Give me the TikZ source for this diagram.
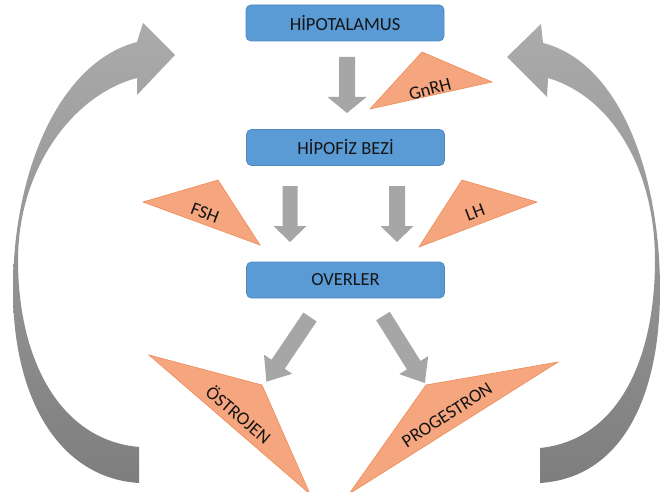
\documentclass[tikz,border=0pt]{standalone}
\usepackage{fontspec}
\setmainfont{Carlito}
\begin{document}
\begin{tikzpicture}[x=1pt,y=-1pt,
  box/.style={draw=boxline, fill=boxblue, rounded corners=5pt, line width=0.8pt,
    minimum width=198pt, minimum height=36pt, inner sep=0pt,
    font=\fontsize{18.5}{22}\selectfont, text=black!92},
  tri/.style={fill=triorange, draw=triline, line width=0.6pt, line join=miter},
  tlabel/.style={font=\fontsize{18.5}{22}\selectfont, text=black!92, inner sep=0pt},
  arrowfill/.style={fill=arrowgray}]
\definecolor{boxblue}{HTML}{5B9BD5}
\definecolor{boxline}{HTML}{4F88BF}
\definecolor{triorange}{HTML}{F5A67F}
\definecolor{triline}{HTML}{EE8B58}
\definecolor{arrowgray}{HTML}{A6A6A6}
\definecolor{biglight}{HTML}{ABABAB}
\definecolor{bigdark}{HTML}{7E7E7E}
\newcommand\blockarr[6]{%
  \begin{scope}[shift={#1},rotate=#2]
  \fill[arrowfill] (0,-#4/2) -- (#3-#6,-#4/2) -- (#3-#6,-#5/2) -- (#3,0)
     -- (#3-#6,#5/2) -- (#3-#6,#4/2) -- (0,#4/2) -- cycle;
  \end{scope}}

\path[use as bounding box] (0,0) rectangle (661,492);
\fill[white] (0,0) rectangle (661,492);

% big curved arrows
\shade[top color=biglight, bottom color=bigdark]
  (139,483) .. controls (60,478) and (13,400) .. (13,290)
  .. controls (13,170) and (60,62) .. (137,42)
  -- (143,23) -- (175,55) -- (137,95) -- (137,78)
  .. controls (72,95) and (18,170) .. (18,260)
  .. controls (18,360) and (60,440) .. (139,447) -- cycle;
\shade[top color=biglight, bottom color=bigdark]
  (540,483) .. controls (620,478) and (660,400) .. (660,290)
  .. controls (660,170) and (618,62) .. (543,43)
  -- (541,24) -- (507,57) -- (547,97) -- (548,78)
  .. controls (612,97) and (655,170) .. (655,260)
  .. controls (655,360) and (618,440) .. (540,448) -- cycle;

% boxes
\node[box] (hipo) at (345,23) {HİPOTALAMUS};
\node[box] (hipofiz) at (345.5,147.5) {HİPOFİZ BEZİ};
\node[box] (over) at (345.5,280) {OVERLER};

% gray block arrows
\blockarr{(347,57)}{-90}{56}{16}{39}{16}
\blockarr{(290,186)}{-90}{56}{15}{33}{16}
\blockarr{(397,186)}{-90}{56}{16}{33}{16}
\blockarr{(310,317)}{-124}{78}{16}{34}{21}
\blockarr{(383,316)}{-58}{79}{16}{34}{21}

% hormone triangles
\path[tri] (370,109) -- (422,52) -- (492,82) -- cycle;
\node[tlabel, rotate=15] (gnrh) at (430,89) {GnRH};
\path[tri] (143,202) -- (218,180) -- (260,245) -- cycle;
\node[tlabel, rotate=-21] (fsh) at (205,213) {FSH};
\path[tri] (537,202) -- (462,180) -- (419,247) -- cycle;
\node[tlabel, rotate=21] (lh) at (475,212) {LH};
\path[tri] (149,355) -- (262,385) -- (310,494) -- cycle;
\node[tlabel, rotate=-40] (ostrojen) at (239,414) {ÖSTROJEN};
\path[tri] (558,362) -- (426,385) -- (349,494) -- cycle;
\node[tlabel, rotate=33] (progestron) at (447,415) {PROGESTRON};
\end{tikzpicture}
\end{document}
